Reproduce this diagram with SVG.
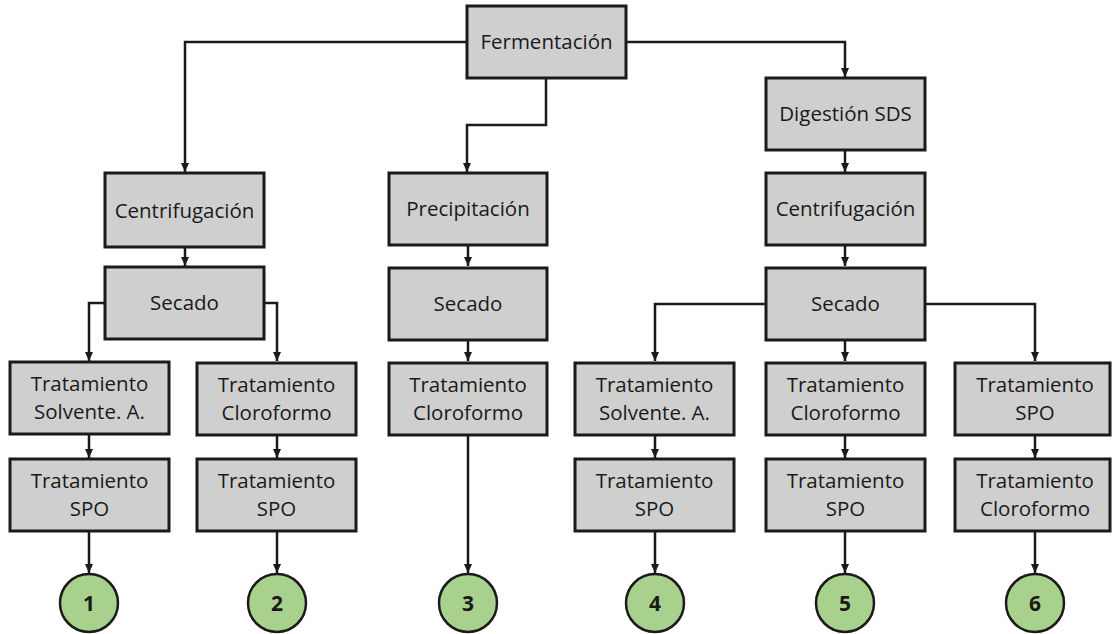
<svg xmlns="http://www.w3.org/2000/svg" width="1112" height="634" viewBox="0 0 1112 634">
<defs>
<marker id="arr" markerUnits="userSpaceOnUse" markerWidth="10" markerHeight="10" refX="9" refY="5" orient="auto">
<path d="M0,1 L9,5 L0,9 Z" fill="#1a1a1a"/>
</marker>
<style>
.box{fill:#d0cfd0;stroke:#1a1a1a;stroke-width:3}
.circ{fill:#a9d18e;stroke:#1a1a1a;stroke-width:2.5}
.t{font-family:"Open Sans","Liberation Sans",sans-serif;font-size:20.5px;fill:#1a1a1a;text-anchor:middle}
.n{font-family:"Open Sans","Liberation Sans",sans-serif;font-size:21px;font-weight:bold;fill:#1a1a1a;text-anchor:middle}
.c{fill:none;stroke:#1a1a1a;stroke-width:2.5;marker-end:url(#arr)}
</style>
</defs>
<rect width="1112" height="634" fill="#ffffff"/>
<g id="connectors">
<path class="c" d="M467,42 H185 V172"/>
<path class="c" d="M546,78 V125 H467 V172"/>
<path class="c" d="M626,42 H845 V77"/>
<path class="c" d="M185,247 V266"/>
<path class="c" d="M468,246 V266"/>
<path class="c" d="M845,150 V172"/>
<path class="c" d="M845,246 V266"/>
<path class="c" d="M105,303 H89 V361"/>
<path class="c" d="M264,303 H277 V361"/>
<path class="c" d="M468,340 V361"/>
<path class="c" d="M766,304 H655 V361"/>
<path class="c" d="M845,340 V361"/>
<path class="c" d="M925,304 H1035 V361"/>
<path class="c" d="M89,435 V458"/>
<path class="c" d="M277,436 V458"/>
<path class="c" d="M655,435 V458"/>
<path class="c" d="M845,435 V458"/>
<path class="c" d="M1035,435 V458"/>
<path class="c" d="M89,532 V573"/>
<path class="c" d="M277,532 V573"/>
<path class="c" d="M468,436 V573"/>
<path class="c" d="M655,532 V573"/>
<path class="c" d="M845,532 V573"/>
<path class="c" d="M1035,532 V573"/>
</g>
<g id="fermentacion"><rect class="box" x="467" y="6" width="159" height="72"/><text class="t" x="546.5" y="49">Fermentación</text></g>
<g id="digestion"><rect class="box" x="766" y="78" width="159" height="72"/><text class="t" x="845.5" y="121">Digestión SDS</text></g>
<g id="centrifugacion1"><rect class="box" x="105" y="173" width="159" height="74"/><text class="t" x="184.5" y="218">Centrifugación</text></g>
<g id="precipitacion"><rect class="box" x="389" y="173" width="158" height="72"/><text class="t" x="468" y="216">Precipitación</text></g>
<g id="centrifugacion2"><rect class="box" x="766" y="173" width="159" height="72"/><text class="t" x="845.5" y="216">Centrifugación</text></g>
<g id="secado1"><rect class="box" x="105" y="267" width="159" height="72"/><text class="t" x="184.5" y="310">Secado</text></g>
<g id="secado2"><rect class="box" x="389" y="268" width="158" height="72"/><text class="t" x="468" y="311">Secado</text></g>
<g id="secado3"><rect class="box" x="766" y="268" width="159" height="72"/><text class="t" x="845.5" y="311">Secado</text></g>
<g id="t1a"><rect class="box" x="10" y="362" width="159" height="72"/><text class="t" x="89.5" y="391">Tratamiento</text><text class="t" x="89.5" y="419">Solvente. A.</text></g>
<g id="t2a"><rect class="box" x="197" y="363" width="159" height="72"/><text class="t" x="276.5" y="392">Tratamiento</text><text class="t" x="276.5" y="420">Cloroformo</text></g>
<g id="t3a"><rect class="box" x="389" y="363" width="158" height="72"/><text class="t" x="468" y="392">Tratamiento</text><text class="t" x="468" y="420">Cloroformo</text></g>
<g id="t4a"><rect class="box" x="575" y="363" width="159" height="72"/><text class="t" x="654.5" y="392">Tratamiento</text><text class="t" x="654.5" y="420">Solvente. A.</text></g>
<g id="t5a"><rect class="box" x="766" y="363" width="159" height="72"/><text class="t" x="845.5" y="392">Tratamiento</text><text class="t" x="845.5" y="420">Cloroformo</text></g>
<g id="t6a"><rect class="box" x="955" y="363" width="155" height="72"/><text class="t" x="1035" y="392">Tratamiento</text><text class="t" x="1035" y="420">SPO</text></g>
<g id="t1b"><rect class="box" x="10" y="459" width="159" height="72"/><text class="t" x="89.5" y="488">Tratamiento</text><text class="t" x="89.5" y="516">SPO</text></g>
<g id="t2b"><rect class="box" x="197" y="459" width="159" height="72"/><text class="t" x="276.5" y="488">Tratamiento</text><text class="t" x="276.5" y="516">SPO</text></g>
<g id="t4b"><rect class="box" x="575" y="459" width="159" height="72"/><text class="t" x="654.5" y="488">Tratamiento</text><text class="t" x="654.5" y="516">SPO</text></g>
<g id="t5b"><rect class="box" x="766" y="459" width="159" height="72"/><text class="t" x="845.5" y="488">Tratamiento</text><text class="t" x="845.5" y="516">SPO</text></g>
<g id="t6b"><rect class="box" x="955" y="459" width="155" height="72"/><text class="t" x="1035" y="488">Tratamiento</text><text class="t" x="1035" y="516">Cloroformo</text></g>
<g id="r1"><circle class="circ" cx="89" cy="603" r="29"/><text class="n" x="89" y="611">1</text></g>
<g id="r2"><circle class="circ" cx="277" cy="603" r="29"/><text class="n" x="277" y="611">2</text></g>
<g id="r3"><circle class="circ" cx="468" cy="603" r="29"/><text class="n" x="468" y="611">3</text></g>
<g id="r4"><circle class="circ" cx="655" cy="603" r="29"/><text class="n" x="655" y="611">4</text></g>
<g id="r5"><circle class="circ" cx="845" cy="603" r="29"/><text class="n" x="845" y="611">5</text></g>
<g id="r6"><circle class="circ" cx="1035" cy="603" r="29"/><text class="n" x="1035" y="611">6</text></g>
</svg>
